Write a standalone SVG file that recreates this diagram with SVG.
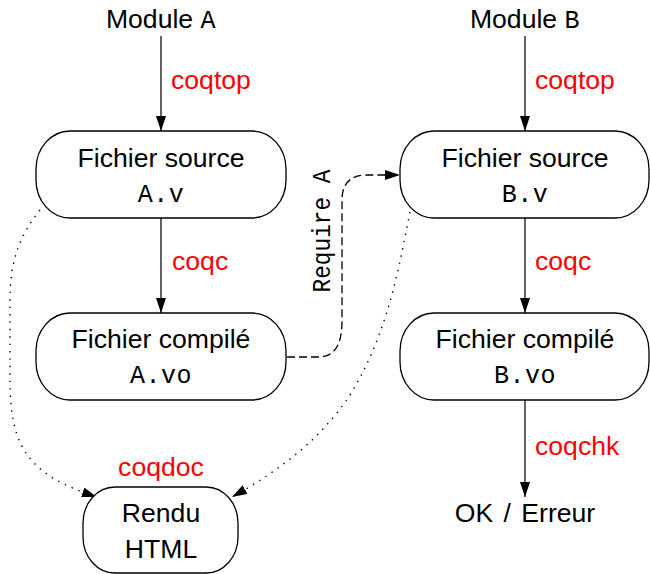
<svg xmlns="http://www.w3.org/2000/svg" width="650" height="574" viewBox="0 0 650 574">
  <style>
    .box { fill: #fff; stroke: #000; stroke-width: 1.3; }
    .sans { font-family: "Liberation Sans", Arial, sans-serif; font-size: 26.6px; fill: #000; }
    .mono { font-family: "Liberation Mono", "Courier New", monospace; font-size: 25px; fill: #000; letter-spacing: 0.5px; }
    .red { font-family: "Liberation Sans", Arial, sans-serif; font-size: 26.6px; fill: #ff0000; }
    .edge { fill: none; stroke: #222; stroke-width: 1.4; }
    .dotted { fill: none; stroke: #000; stroke-width: 1.4; stroke-dasharray: 1.4 6; }
    .dashed { fill: none; stroke: #000; stroke-width: 1.3; stroke-dasharray: 8 4; }
  </style>
  <defs>
    <marker id="arr" markerUnits="userSpaceOnUse" markerWidth="16" markerHeight="11" refX="15" refY="5" orient="auto">
      <path d="M0,0 L15,5 L0,10 z" fill="#000"/>
    </marker>
  </defs>

  <g id="connectors">
    <line class="edge" x1="161" y1="36" x2="161" y2="131" marker-end="url(#arr)"/>
    <line class="edge" x1="161" y1="218" x2="161" y2="313" marker-end="url(#arr)"/>
    <line class="edge" x1="525" y1="36" x2="525" y2="131" marker-end="url(#arr)"/>
    <line class="edge" x1="525" y1="218" x2="525" y2="313" marker-end="url(#arr)"/>
    <line class="edge" x1="525" y1="400" x2="525" y2="497" marker-end="url(#arr)"/>
    <path class="dashed" d="M287,357 L318,357 C335,357 342,345 342,320 L342,200 C342,182 352,175 367,175 L400,175" marker-end="url(#arr)"/>
    <path class="dotted" d="M40,210 C20,235 10,260 10,300 L10,380 C10,450 30,475 97,497" marker-end="url(#arr)"/>
    <path class="dotted" d="M410,212 C400,260 390,330 350,395 C320,440 280,470 232,497" marker-end="url(#arr)"/>
    <text class="red" x="171" y="89">coqtop</text>
    <text class="red" x="172" y="270">coqc</text>
    <text class="red" x="535" y="89">coqtop</text>
    <text class="red" x="535" y="270">coqc</text>
    <text class="red" x="535" y="455">coqchk</text>
    <text class="red" x="161" y="476" text-anchor="middle">coqdoc</text>
    <text class="mono" x="0" y="0" transform="translate(330,231) rotate(-90)" text-anchor="middle" textLength="123" lengthAdjust="spacingAndGlyphs" style="letter-spacing:0">Require A</text>
  </g>

  <g id="moduleA">
    <text class="sans" x="161" y="28" text-anchor="middle">Module <tspan class="mono">A</tspan></text>
  </g>
  <g id="moduleB">
    <text class="sans" x="525" y="28" text-anchor="middle">Module <tspan class="mono">B</tspan></text>
  </g>

  <g id="sourceA">
    <rect class="box" x="36" y="131" width="250" height="87" rx="34" ry="38"/>
    <text class="sans" x="161" y="167" text-anchor="middle">Fichier source</text>
    <text class="mono" x="161" y="202" text-anchor="middle">A.v</text>
  </g>
  <g id="compiledA">
    <rect class="box" x="36" y="313" width="250" height="87" rx="34" ry="38"/>
    <text class="sans" x="161" y="348" text-anchor="middle">Fichier compilé</text>
    <text class="mono" x="161" y="383" text-anchor="middle">A.vo</text>
  </g>
  <g id="sourceB">
    <rect class="box" x="400" y="131" width="249" height="87" rx="34" ry="38"/>
    <text class="sans" x="525" y="167" text-anchor="middle">Fichier source</text>
    <text class="mono" x="525" y="202" text-anchor="middle">B.v</text>
  </g>
  <g id="compiledB">
    <rect class="box" x="400" y="313" width="249" height="87" rx="34" ry="38"/>
    <text class="sans" x="525" y="348" text-anchor="middle">Fichier compilé</text>
    <text class="mono" x="525" y="383" text-anchor="middle">B.vo</text>
  </g>
  <g id="html">
    <rect class="box" x="83" y="487" width="155" height="86" rx="32" ry="36"/>
    <text class="sans" x="161" y="522" text-anchor="middle">Rendu</text>
    <text class="sans" x="161" y="558" text-anchor="middle">HTML</text>
  </g>
  <g id="result">
    <text class="sans" x="525" y="522" text-anchor="middle">OK <tspan dx="3">/</tspan> <tspan dx="3">Erreur</tspan></text>
  </g>
</svg>
